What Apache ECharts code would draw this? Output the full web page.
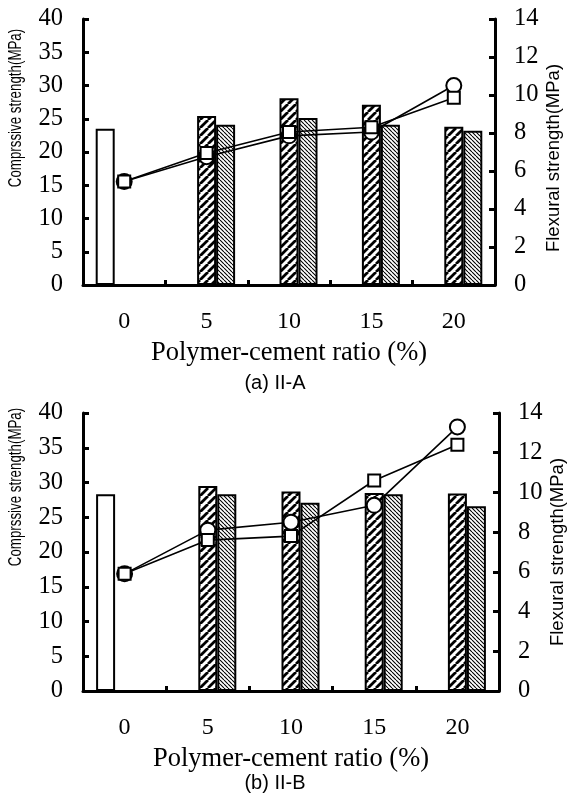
<!DOCTYPE html>
<html><head><meta charset="utf-8">
<script src="https://cdn.jsdelivr.net/npm/echarts@6/dist/echarts.min.js"></script>
<style>html,body{margin:0;padding:0;background:#fff}#c{width:567px;height:793px}</style>
</head><body><div id="c"></div>
<script>
// ---- data ----
const categories = ['0', '5', '10', '15', '20'];
// (a) II-A : compressive strength (left axis, MPa)
const a_control = [23.5, null, null, null, null];
const a_hatched = [null, 25.4, 28.1, 27.1, 23.8];
const a_fine = [null, 24.1, 25.1, 24.1, 23.2];
// (a) II-A : flexural strength (right axis, MPa)
const a_flexCircle = [5.45, 6.75, 7.85, 8.05, 10.5];
const a_flexSquare = [5.45, 6.95, 8.05, 8.3, 9.85];
// (b) II-B : compressive strength
const b_control = [28.3, null, null, null, null];
const b_hatched = [null, 29.5, 28.7, 28.5, 28.4];
const b_fine = [null, 28.3, 27.1, 28.3, 26.6];
// (b) II-B : flexural strength
const b_flexCircle = [5.9, 8.1, 8.5, 9.35, 13.3];
const b_flexSquare = [5.9, 7.6, 7.8, 10.6, 12.4];
// axis ranges
const leftMax = 40, leftStep = 5, rightMax = 14, rightStep = 2;
const xName = 'Polymer-cement ratio (%)';
const leftName = 'Comprssive strength(MPa)';
const rightName = 'Flexural strength(MPa)';
const subTitles = ['(a) II-A', '(b) II-B'];

// ---- styles ----
function hatch(size, lw, forward) {
  const c = document.createElement('canvas');
  c.width = c.height = size;
  const g = c.getContext('2d');
  g.fillStyle = '#fff'; g.fillRect(0, 0, size, size);
  g.strokeStyle = '#000'; g.lineWidth = lw; g.beginPath();
  for (let k = -1; k <= 1; k++) {
    if (forward) { g.moveTo(k * size, size); g.lineTo(k * size + size, 0); }
    else { g.moveTo(k * size, 0); g.lineTo(k * size + size, size); }
  }
  g.stroke();
  return c;
}
const thickPat = { image: hatch(8, 2.8, true), repeat: 'repeat' };
const finePat = { image: hatch(4, 1.1, false), repeat: 'repeat' };
const serif = '"Liberation Serif","Times New Roman",serif';
const sans = '"Liberation Sans",Arial,sans-serif';

const grids = [
  { left: 83, right: 72, top: 19, height: 266 },
  { left: 83, right: 68, top: 413, height: 278 }
];
const xAxes = [], yAxes = [], series = [];
const sets = [
  [a_control, a_hatched, a_fine, a_flexCircle, a_flexSquare],
  [b_control, b_hatched, b_fine, b_flexCircle, b_flexSquare]
];
const axisLine = { show: true, onZero: false, lineStyle: { color: '#000', width: 3 } };
sets.forEach((s, i) => {
  xAxes.push({
    type: 'category', gridIndex: i, data: categories,
    axisLine: axisLine,
    axisTick: { show: true, inside: true, length: 5, lineStyle: { color: '#000', width: 3 } },
    axisLabel: { color: '#000', fontFamily: serif, fontSize: 24, margin: 25 },
    name: xName, nameLocation: 'middle', nameGap: 55,
    nameTextStyle: { color: '#000', fontFamily: serif, fontSize: 26.5 }
  });
  yAxes.push({
    type: 'value', gridIndex: i, min: 0, max: leftMax, interval: leftStep, position: 'left',
    axisLine: axisLine, splitLine: { show: false },
    axisTick: { show: true, inside: true, length: 6, lineStyle: { color: '#000', width: 3 } },
    axisLabel: { color: '#000', fontFamily: serif, fontSize: 24.5, margin: 20 }
  });
  yAxes.push({
    type: 'value', gridIndex: i, min: 0, max: rightMax, interval: rightStep, position: 'right',
    axisLine: axisLine, splitLine: { show: false },
    axisTick: { show: true, inside: true, length: 6, lineStyle: { color: '#000', width: 3 } },
    axisLabel: { color: '#000', fontFamily: serif, fontSize: 24.5, margin: 19 }
  });
  const barBase = { type: 'bar', xAxisIndex: i, yAxisIndex: 2 * i, barWidth: 19, barGap: '0%' };
  const border = { borderColor: '#000', borderWidth: 2 };
  series.push(Object.assign({}, barBase, { name: 'Control', data: s[0], itemStyle: Object.assign({ color: '#fff' }, border) }));
  series.push(Object.assign({}, barBase, { name: 'Compressive 1', data: s[1], itemStyle: Object.assign({ color: thickPat }, border) }));
  series.push(Object.assign({}, barBase, { name: 'Compressive 2', data: s[2], itemStyle: Object.assign({ color: finePat }, border) }));
  series.push({
    type: 'line', name: 'Flexural 1', xAxisIndex: i, yAxisIndex: 2 * i + 1, data: s[3], z: 5,
    symbol: 'circle', symbolSize: 15, showAllSymbol: true,
    lineStyle: { color: '#000', width: 1.6 },
    itemStyle: { color: '#fff', borderColor: '#000', borderWidth: 2 }
  });
  series.push({
    type: 'line', name: 'Flexural 2', xAxisIndex: i, yAxisIndex: 2 * i + 1, data: s[4], z: 6,
    symbol: 'rect', symbolSize: 12, showAllSymbol: true,
    lineStyle: { color: '#000', width: 1.6 },
    itemStyle: { color: '#fff', borderColor: '#000', borderWidth: 2 }
  });
});

const graphic = [];
[[108, 158, 383], [487, 552, 783]].forEach((p, i) => {
  graphic.push({ type: 'text', x: 16, y: p[0], rotation: Math.PI / 2, scaleX: 0.74,
    style: { text: leftName, font: '18px ' + sans, fill: '#000', align: 'center', verticalAlign: 'middle' } });
  graphic.push({ type: 'text', x: i === 0 ? 554 : 558, y: p[1], rotation: Math.PI / 2,
    style: { text: rightName, font: '18.5px ' + sans, fill: '#000', align: 'center', verticalAlign: 'middle' } });
  graphic.push({ type: 'text', x: 275, y: p[2],
    style: { text: subTitles[i], font: '20px ' + sans, fill: '#000', align: 'center', verticalAlign: 'middle' } });
});

const chart = echarts.init(document.getElementById('c'), null, { renderer: 'canvas' });
chart.setOption({
  animation: false, backgroundColor: '#fff',
  grid: grids, xAxis: xAxes, yAxis: yAxes, series: series, graphic: graphic
});
</script></body></html>
